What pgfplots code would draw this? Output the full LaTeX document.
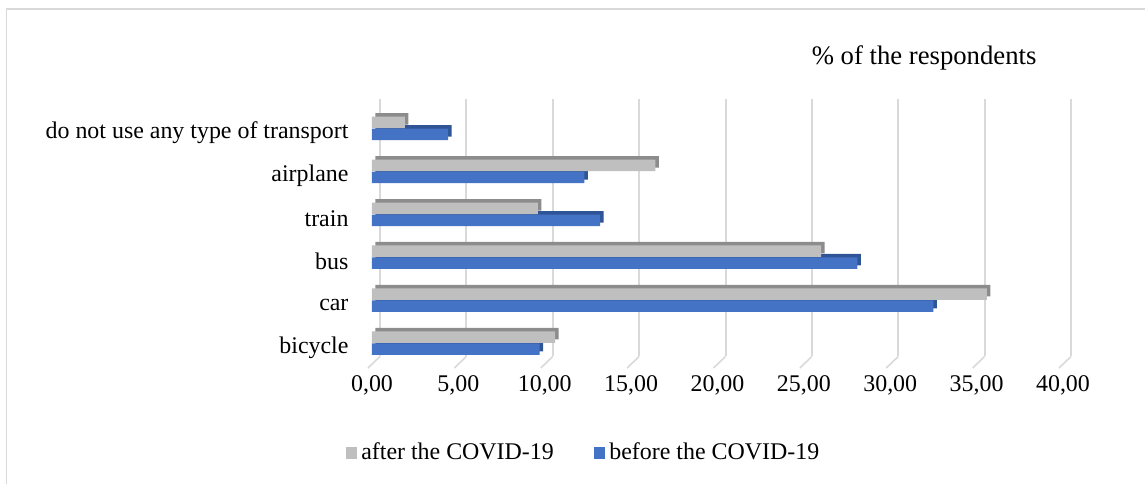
\documentclass[border=0pt]{standalone}
\usepackage{pgfplots}
\pgfplotsset{compat=1.18}
\usepackage{fontspec}
\setmainfont{Liberation Serif}
\definecolor{cgray}{HTML}{BFBFBF}
\definecolor{cgrayd}{HTML}{8C8C8C}
\definecolor{cblue}{HTML}{4472C4}
\definecolor{cblued}{HTML}{2F5597}
\definecolor{cgrid}{HTML}{D9D9D9}
\begin{document}
\begin{tikzpicture}
\useasboundingbox (-186bp,-59.75bp) rectangle (386.5bp,182.25bp);
\draw[cgrid, line width=0.75bp] (-182.75bp,-62bp) -- (-182.75bp,177.75bp) -- (390bp,177.75bp);
\begin{axis}[
  at={(0,0)}, anchor=south west,
  scale only axis, width=345.5bp, height=128.75bp,
  clip mode=individual,
  xbar, bar width=5.75bp,
  xmin=0, xmax=40, ymin=-0.5, ymax=5.5,
  xtick={0,5,...,40},
  ytick={0,1,2,3,4,5},
  yticklabels={bicycle,car,bus,train,airplane,do not use any type of transport},
  axis line style={draw=none},
  tick style={draw=none},
  xmajorgrids,
  major grid style={draw=cgrid, line width=1bp, xshift=4bp, yshift=4bp},
  font=\fontsize{12}{14}\selectfont,
  ticklabel style={font=\fontsize{12}{14}\selectfont},
  yticklabel style={xshift=-4bp, yshift=-2.3bp},
  xticklabel style={yshift=-2bp},
  /pgf/number format/.cd, fixed, fixed zerofill, precision=2, use comma, assume math mode=true,
  /pgfplots/.cd,
  legend style={at={(0.3075,-0.343)}, anchor=center, draw=none, fill=none,
    legend columns=2, font=\fontsize{12}{14}\selectfont,
    /tikz/every even column/.append style={column sep=18bp}},
  legend cell align=left,
  legend image code/.code={\fill[#1] (0bp,-2.9bp) rectangle (5.8bp,2.9bp);},
]
\pgfplotsinvokeforeach{0,5,10,15,20,25,30,35,40}{
  \draw[cgrid, line width=0.8bp] ([xshift=4bp,yshift=4bp]axis cs:#1,-0.5) -- ([xshift=-2bp,yshift=-1.75bp]axis cs:#1,-0.5);
}
% before (blue), depth then face
\addplot[forget plot, fill=cblued, draw=none, bar shift=-3bp, xshift=1.75bp, yshift=1.75bp]
  coordinates {(9.7,0) (32.5,1) (28.1,2) (13.2,3) (12.3,4) (4.4,5)};
\addplot[forget plot, fill=cblue, draw=none, bar shift=-3bp]
  coordinates {(9.7,0) (32.5,1) (28.1,2) (13.2,3) (12.3,4) (4.4,5)};
% after (gray)
\addplot[forget plot, fill=cgrayd, draw=none, bar shift=3bp, xshift=1.75bp, yshift=1.75bp]
  coordinates {(10.6,0) (35.6,1) (26.0,2) (9.6,3) (16.4,4) (1.9,5)};
\addplot[forget plot, fill=cgray, draw=none, bar shift=3bp]
  coordinates {(10.6,0) (35.6,1) (26.0,2) (9.6,3) (16.4,4) (1.9,5)};
\addlegendimage{fill=cgray, draw=none}
\addlegendentry{after the COVID-19}
\addlegendimage{fill=cblue, draw=none}
\addlegendentry{before the COVID-19}
\node[anchor=center, font=\fontsize{13.4}{15}\selectfont] at (rel axis cs:0.799,1.19) {\% of the respondents};
\end{axis}
\end{tikzpicture}
\end{document}
